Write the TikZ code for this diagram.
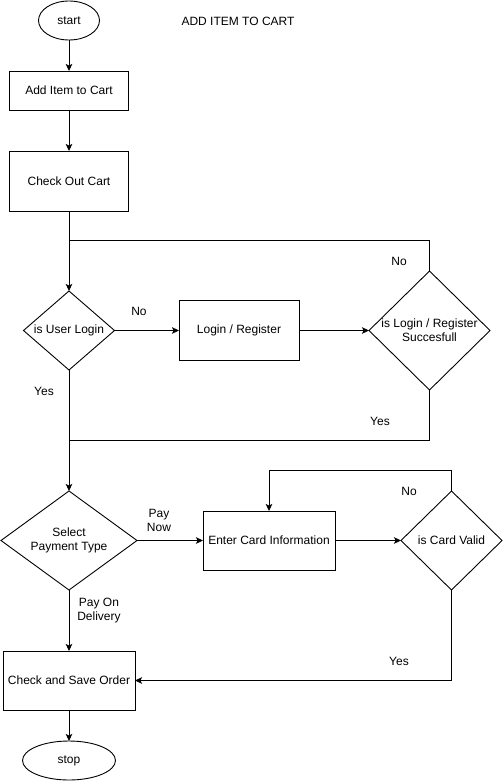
\documentclass[tikz,border=0pt]{standalone}
\usepackage{fontspec}
\setmainfont{Liberation Sans}
\usetikzlibrary{shapes.geometric,arrows.meta}
\begin{document}
\begin{tikzpicture}[x=1pt,y=-1pt,
  every node/.style={font=\fontsize{12pt}{14pt}\selectfont, inner sep=0pt, outer sep=0pt},
  box/.style={draw, line width=0.9pt, rectangle, align=center},
  oval/.style={draw, line width=0.9pt, ellipse},
  dia/.style={draw, line width=0.9pt, diamond},
  line/.style={line width=0.9pt},
  arr/.style={line width=0.9pt, -{Stealth[length=7pt,width=6.5pt,inset=1.5pt]}},
  lbl/.style={align=center}
]
\useasboundingbox (0,0) rectangle (503,781);
\fill[white] (0,0) rectangle (503,781);

\node[oval, minimum width=61pt, minimum height=39pt] (start) at (69,20.5) {start};
\node (title) at (238,21) {ADD ITEM TO CART};
\node[box, minimum width=119pt, minimum height=39pt] (add) at (69,90.5) {Add Item to Cart};
\node[box, minimum width=119pt, minimum height=60pt] (checkout) at (69,181) {Check Out Cart};
\node[dia, minimum width=91pt, minimum height=79pt, label={[lbl]center:is User Login}] (userlogin) at (69,330.5) {};
\node[box, minimum width=120pt, minimum height=60pt] (login) at (239,330.5) {Login / Register};
\node[dia, minimum width=121pt, minimum height=119pt, label={[lbl]center:is Login / Register\\Succesfull}] (loginok) at (429.5,330.5) {};
\node[dia, minimum width=136pt, minimum height=99pt, label={[lbl]center:Select\\Payment Type}] (payment) at (69,540.5) {};
\node[box, minimum width=132pt, minimum height=59pt] (card) at (269,540.5) {Enter Card Information};
\node[dia, minimum width=101pt, minimum height=99pt, label={[lbl]center:is Card Valid}] (valid) at (451.5,540.5) {};
\node[box, minimum width=132pt, minimum height=59pt] (save) at (69,680.5) {Check and Save Order};
\node[oval, minimum width=93pt, minimum height=39pt] (stop) at (69,760.5) {stop};

\coordinate (j1) at (69,240);
\coordinate (j2) at (69,440);
\coordinate (j3) at (451.5,470);

\draw[arr] (start) -- (add);
\draw[arr] (add) -- (checkout);
\draw[arr] (checkout) -- (userlogin);
\draw[line] (loginok.north) |- (j1);
\draw[arr] (userlogin) -- (login);
\draw[arr] (login) -- (loginok);
\draw[line] (loginok.south) |- (j2);
\draw[arr] (userlogin) -- (payment);
\draw[arr] (payment) -- (card);
\draw[arr] (card) -- (valid);
\draw[arr] (valid.north) -- (j3) -| (card.north);
\draw[arr] (valid.south) |- (save.east);
\draw[arr] (payment) -- (save);
\draw[arr] (save) -- (stop);

\node[lbl] (lno1) at (139,311) {No};
\node[lbl] (lno2) at (399,261) {No};
\node[lbl] (lyes1) at (44,391) {Yes};
\node[lbl] (lyes2) at (380,421) {Yes};
\node[lbl] (lpaynow) at (159,520) {Pay\\Now};
\node[lbl] (lpod) at (99,611) {Pay On\\Delivery};
\node[lbl] (lno3) at (409,491) {No};
\node[lbl] (lyes3) at (399,661) {Yes};
\end{tikzpicture}
\end{document}
